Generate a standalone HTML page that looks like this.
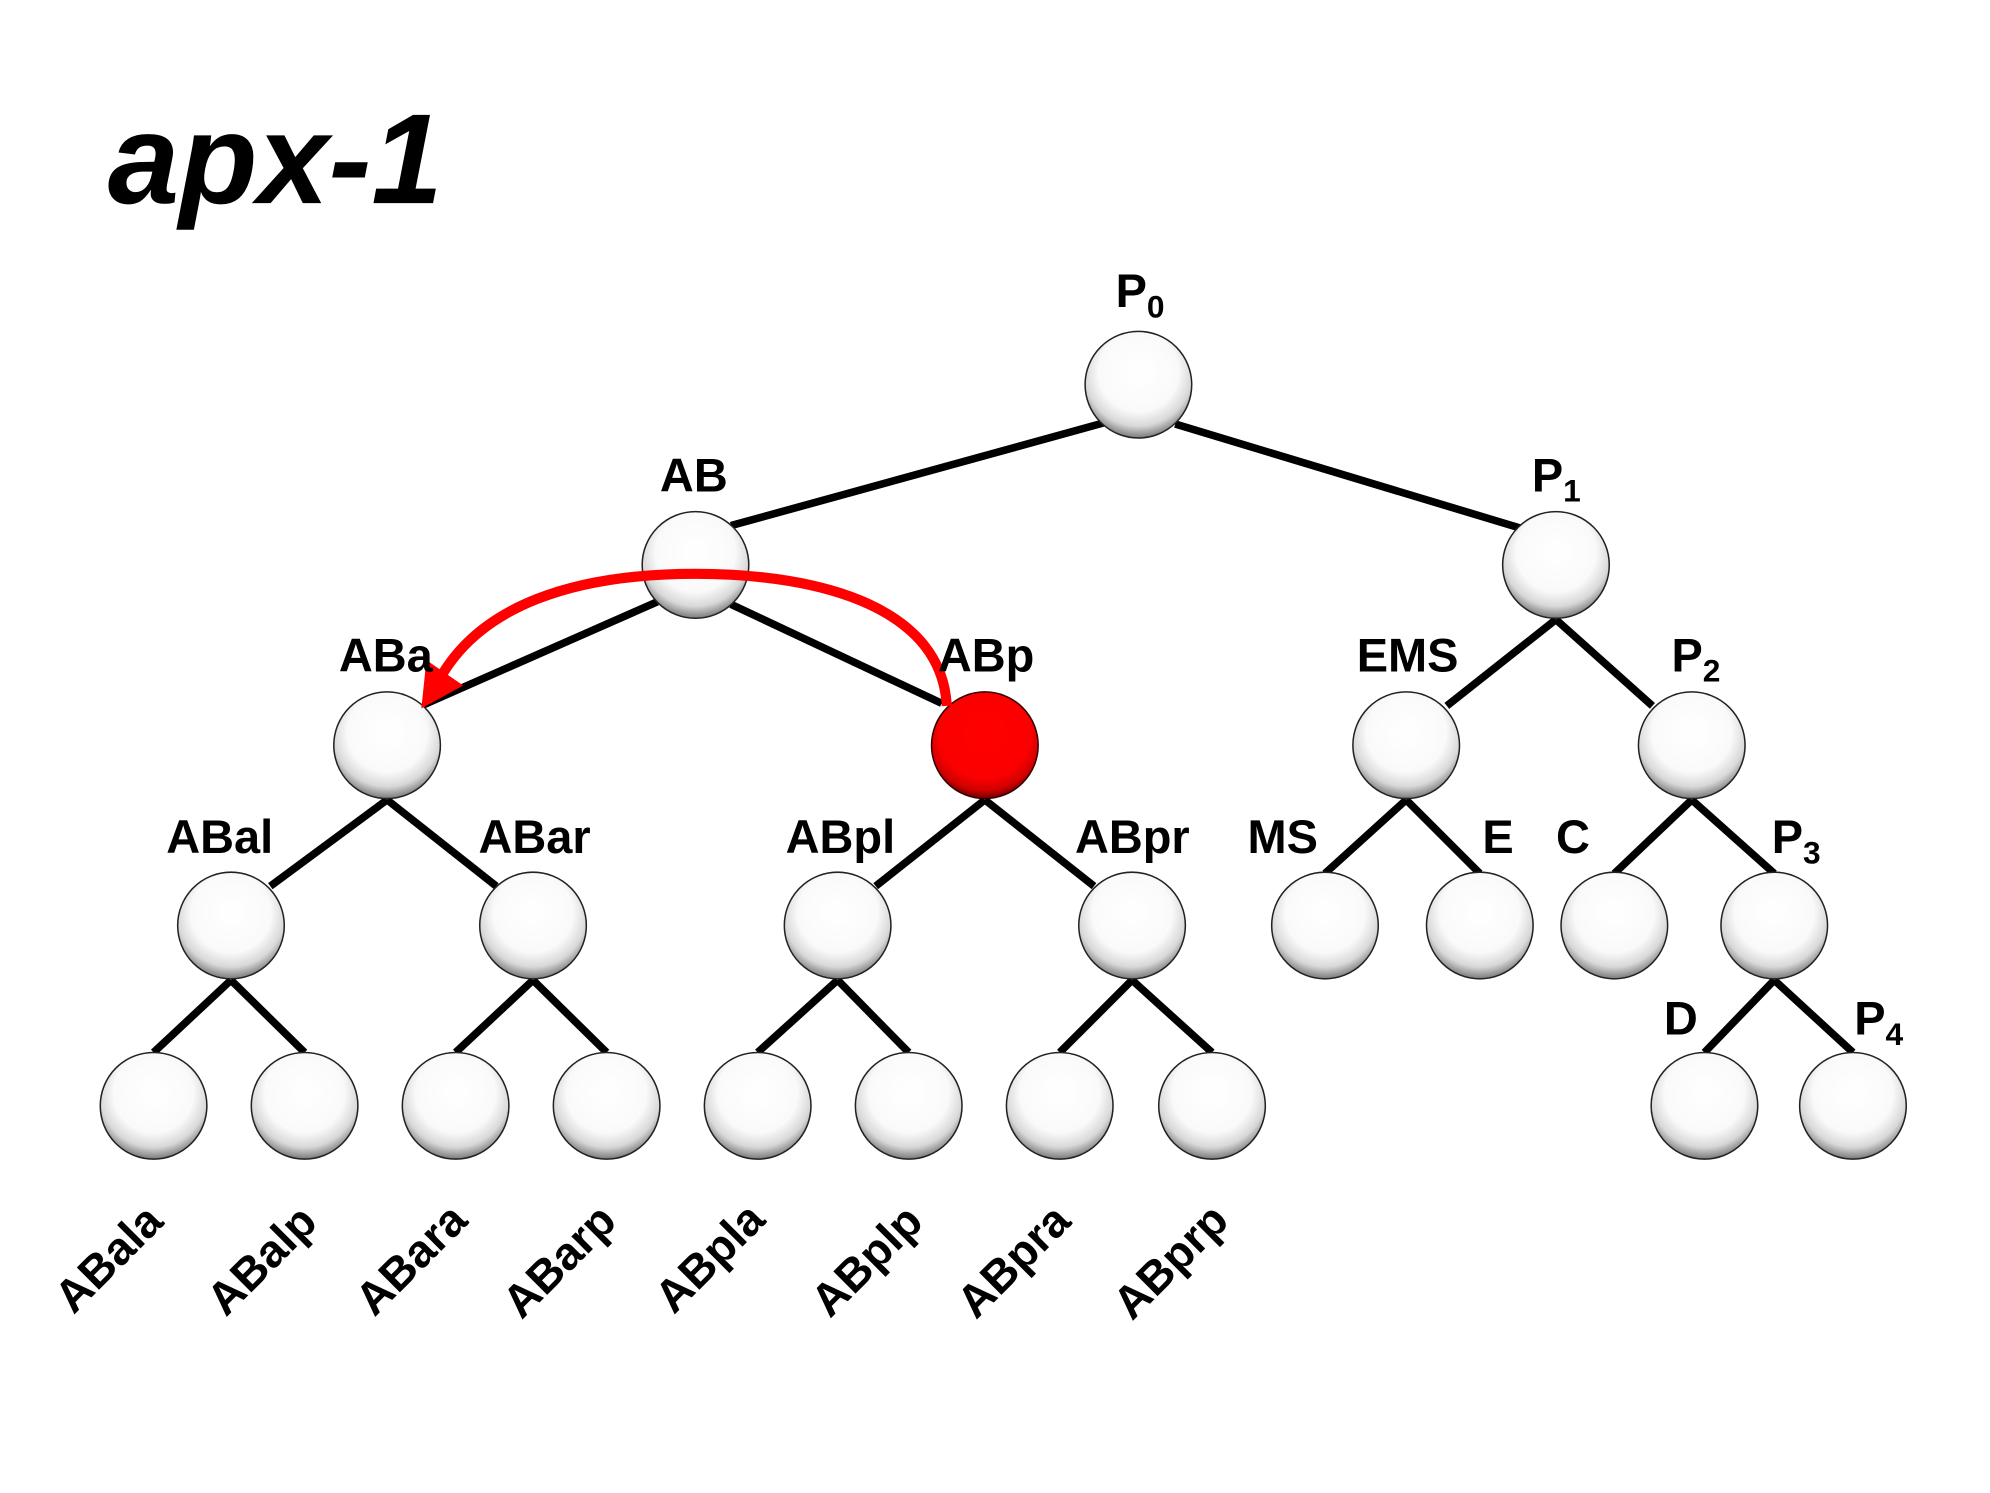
<!DOCTYPE html>
<html><head><meta charset="utf-8"><style>
html,body{margin:0;padding:0;background:#fff;}
svg{display:block;}
text{font-family:"Liberation Sans",Arial,sans-serif;font-weight:bold;fill:#000;}
</style></head><body>
<svg width="1990" height="1493" viewBox="0 0 1568 1176" preserveAspectRatio="none" xmlns="http://www.w3.org/2000/svg">
<defs>
<radialGradient id="w" cx="50%" cy="38%" r="62%">
<stop offset="0" stop-color="#fff"/><stop offset="0.6" stop-color="#fafafa"/><stop offset="0.82" stop-color="#d8d8d8"/><stop offset="1" stop-color="#7a7a7a"/>
</radialGradient>
<radialGradient id="r" cx="50%" cy="38%" r="62%">
<stop offset="0" stop-color="#ff0000"/><stop offset="0.7" stop-color="#fa0000"/><stop offset="0.88" stop-color="#d00000"/><stop offset="1" stop-color="#700000"/>
</radialGradient>
</defs>
<text x="85" y="160" font-size="101" font-style="italic">apx-1</text>
<g stroke="#000" stroke-width="6" fill="none">
<line x1="870" y1="333" x2="576" y2="414"/>
<line x1="926" y1="334" x2="1198" y2="416"/>
<line x1="518" y1="474" x2="334" y2="555"/>
<line x1="576" y1="476" x2="742" y2="554"/>
<line x1="305" y1="630" x2="213" y2="698"/><line x1="305" y1="630" x2="391" y2="698"/>
<line x1="776" y1="630" x2="690" y2="698"/><line x1="776" y1="630" x2="862" y2="698"/>
<line x1="1226" y1="488" x2="1140" y2="556"/><line x1="1226" y1="488" x2="1302" y2="556"/>
<line x1="1108" y1="630" x2="1044" y2="688"/><line x1="1108" y1="630" x2="1166" y2="688"/>
<line x1="1333" y1="630" x2="1272" y2="688"/><line x1="1333" y1="630" x2="1398" y2="688"/>
<line x1="182" y1="772" x2="121" y2="829"/><line x1="182" y1="772" x2="240" y2="829"/>
<line x1="420" y1="772" x2="359" y2="829"/><line x1="420" y1="772" x2="478" y2="829"/>
<line x1="660" y1="772" x2="597" y2="829"/><line x1="660" y1="772" x2="716" y2="829"/>
<line x1="892" y1="772" x2="835" y2="829"/><line x1="892" y1="772" x2="955" y2="829"/>
<line x1="1398" y1="772" x2="1343" y2="829"/><line x1="1398" y1="772" x2="1460" y2="829"/>
</g>
<g stroke="#222" stroke-width="1.2" fill="url(#w)">
<circle cx="897" cy="303" r="42"/><circle cx="548" cy="445" r="42"/><circle cx="1226" cy="445" r="42"/>
<circle cx="305" cy="587" r="42"/><circle cx="1108" cy="587" r="42"/><circle cx="1333" cy="587" r="42"/>
<circle cx="182" cy="729" r="42"/><circle cx="420" cy="729" r="42"/><circle cx="660" cy="729" r="42"/><circle cx="892" cy="729" r="42"/>
<circle cx="1044" cy="729" r="42"/><circle cx="1166" cy="729" r="42"/><circle cx="1272" cy="729" r="42"/><circle cx="1398" cy="729" r="42"/>
<circle cx="121" cy="871" r="42"/><circle cx="240" cy="871" r="42"/><circle cx="359" cy="871" r="42"/><circle cx="478" cy="871" r="42"/>
<circle cx="597" cy="871" r="42"/><circle cx="716" cy="871" r="42"/><circle cx="835" cy="871" r="42"/><circle cx="955" cy="871" r="42"/>
<circle cx="1343" cy="871" r="42"/><circle cx="1460" cy="871" r="42"/>
</g>
<circle cx="776" cy="587" r="42" fill="url(#r)" stroke="#300" stroke-width="1.2"/>
<path d="M746,556 C742,480 650,452 548,452 C450,452 380,478 348,532" stroke="#f00" stroke-width="8" fill="none"/>
<polygon points="332,558 336,520 365,540" fill="#f00"/>
<g font-size="37">
<text x="879" y="242">P<tspan font-size="25" dy="8">0</tspan></text>
<text x="520" y="387">AB</text>
<text x="1207" y="387">P<tspan font-size="25" dy="8">1</tspan></text>
<text x="267" y="529">ABa</text>
<text x="739" y="529">ABp</text>
<text x="1069" y="529">EMS</text>
<text x="1317" y="529">P<tspan font-size="25" dy="8">2</tspan></text>
<text x="131" y="672">ABal</text>
<text x="377" y="672">ABar</text>
<text x="619" y="672">ABpl</text>
<text x="847" y="672">ABpr</text>
<text x="983" y="672">MS</text>
<text x="1168" y="672">E</text>
<text x="1226" y="672">C</text>
<text x="1396" y="672">P<tspan font-size="25" dy="8">3</tspan></text>
<text x="1311" y="815">D</text>
<text x="1461" y="815">P<tspan font-size="25" dy="8">4</tspan></text>
</g>
<g font-size="36">
<text transform="translate(58,1036) rotate(-45)">ABala</text>
<text transform="translate(178,1038) rotate(-45)">ABalp</text>
<text transform="translate(295,1038) rotate(-45)">ABara</text>
<text transform="translate(411,1040) rotate(-45)">ABarp</text>
<text transform="translate(531,1036) rotate(-45)">ABpla</text>
<text transform="translate(654,1039) rotate(-45)">ABplp</text>
<text transform="translate(769,1040) rotate(-45)">ABpra</text>
<text transform="translate(892,1041) rotate(-45)">ABprp</text>
</g>
</svg>
</body></html>
